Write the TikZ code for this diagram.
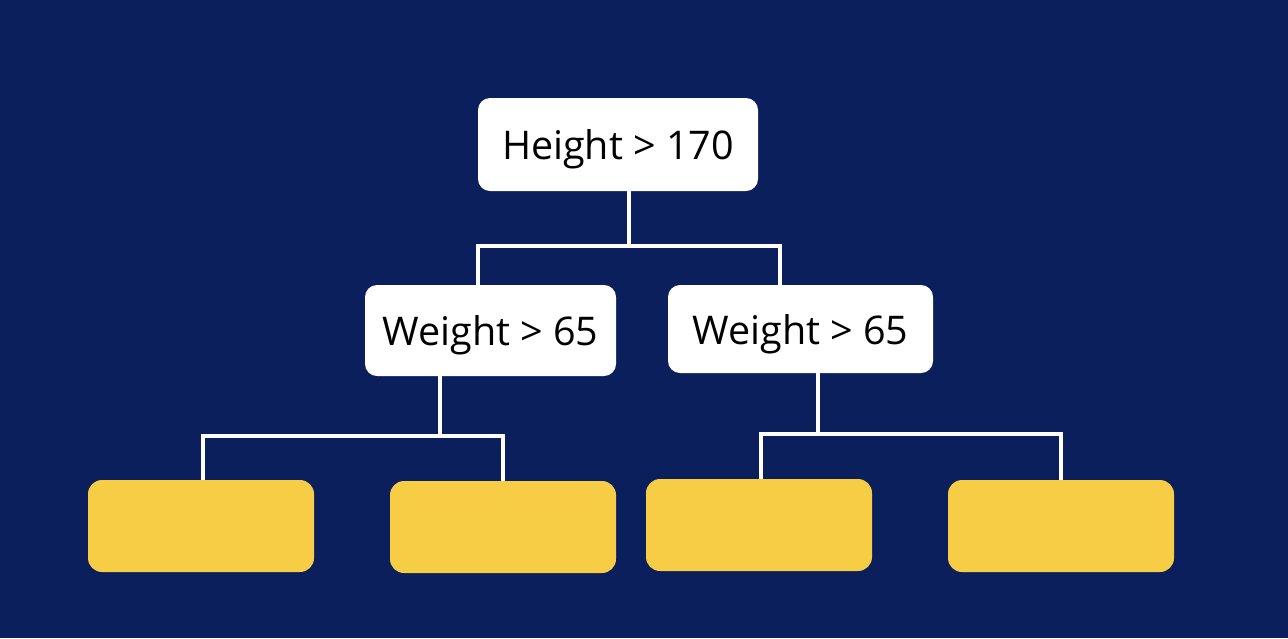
\documentclass[tikz,border=0pt]{standalone}
\usepackage{fontspec}
\setmainfont{Open Sans}
\definecolor{navy}{HTML}{0A1F5B}
\definecolor{leafyellow}{HTML}{F7CD45}
\tikzset{
  test/.style={fill=white, rounded corners=12pt, inner sep=0pt, text depth=0pt, font=\fontsize{39.5}{46}\selectfont},
  leaf/.style={fill=leafyellow, rounded corners=14pt, inner sep=0pt, minimum width=226pt, minimum height=92pt},
  branch/.style={draw=white, line width=3.2pt}
}
\begin{document}
\begin{tikzpicture}[x=1pt, y=-1pt]
  \fill[navy] (0,0) rectangle (1288,638);
  \useasboundingbox (0,0) rectangle (1288,638);

  \node[test, minimum width=280pt, minimum height=93pt] (root) at (618,144.5) {Height > 170};
  \node[test, minimum width=251pt, minimum height=91pt] (wl) at (490.5,330.5) {Weight > 65};
  \node[test, minimum width=265pt, minimum height=88pt] (wr) at (800.5,329) {Weight > 65};

  \node[leaf] (l1) at (201,526) {};
  \node[leaf] (l2) at (503,527) {};
  \node[leaf] (l3) at (759,525) {};
  \node[leaf] (l4) at (1061,526) {};

  % split points
  \coordinate (s0) at (629,246);
  \coordinate (s1) at (440,436);
  \coordinate (s2) at (818,434);

  \draw[branch] (root.south -| s0) -- (s0);
  \draw[branch] (wl.north -| 478,0) |- (s0) -| (wr.north -| 780,0);
  \draw[branch] (wl.south -| s1) -- (s1);
  \draw[branch] (l1.north -| 203,0) |- (s1) -| (l2.north -| 503,0);
  \draw[branch] (wr.south -| s2) -- (s2);
  \draw[branch] (l3.north -| 761,0) |- (s2) -| (l4.north -| 1061,0);
\end{tikzpicture}
\end{document}
